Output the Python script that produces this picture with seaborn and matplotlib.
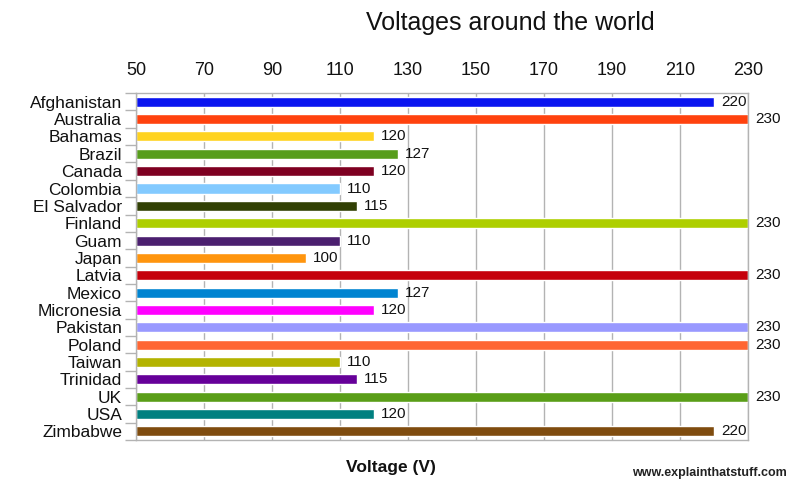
import matplotlib
matplotlib.use("Agg")
import matplotlib.pyplot as plt
import seaborn as sns
import pandas as pd
from matplotlib.ticker import FixedLocator

countries = ["Afghanistan", "Australia", "Bahamas", "Brazil", "Canada", "Colombia",
             "El Salvador", "Finland", "Guam", "Japan", "Latvia", "Mexico",
             "Micronesia", "Pakistan", "Poland", "Taiwan", "Trinidad", "UK",
             "USA", "Zimbabwe"]
voltages = [220, 230, 120, 127, 120, 110, 115, 230, 110, 100, 230, 127,
            120, 230, 230, 110, 115, 230, 120, 220]
colors = ["#0a14f0", "#ff420e", "#ffd320", "#579d1c", "#7e0021", "#83caff",
          "#314004", "#aecf00", "#4b1f6f", "#ff950e", "#c5000b", "#0084d1",
          "#ff00ff", "#9999ff", "#ff6633", "#b3b300", "#660099", "#5a9e18",
          "#008080", "#7f4c0f"]
x_ticks = [50, 70, 90, 110, 130, 150, 170, 190, 210, 230]

df = pd.DataFrame({"country": countries, "voltage": voltages})

sns.set_theme(style="white")
plt.rcParams["font.family"] = ["Liberation Sans", "DejaVu Sans"]

fig = plt.figure(figsize=(8, 4.9), dpi=100)
ax = fig.add_axes([0.17, 0.102, 0.765, 0.708])

base = 50
sns.barplot(data=df.assign(length=df["voltage"] - base), y="country", x="length",
            hue="country", palette=colors, legend=False, orient="h",
            width=0.58, left=base, ax=ax, saturation=1)

ax.set_xlim(50, 230)
ax.set_ylim(len(countries) - 0.5, -0.5)
ax.xaxis.tick_top()
ax.set_xticks(x_ticks)
ax.set_xticklabels([str(t) for t in x_ticks], fontsize=13, color="#111111")
ax.tick_params(axis="x", length=0, pad=10)
ax.grid(axis="x", color="#b3b3b3", linewidth=1)
ax.set_axisbelow(True)

ax.set_yticks(range(len(countries)))
ax.set_yticklabels(countries, fontsize=12.5, color="#111111")
ax.tick_params(axis="y", which="major", length=0, pad=10)
ax.yaxis.set_minor_locator(FixedLocator([i - 0.5 for i in range(len(countries) + 1)]))
ax.tick_params(axis="y", which="minor", length=8, color="#b3b3b3", width=1, left=True)

for s in ax.spines.values():
    s.set_color("#b3b3b3")
    s.set_linewidth(1)

ax.set_xlabel("")
ax.set_ylabel("")

for i, v in enumerate(voltages):
    ax.text(v + 2, i, str(v), va="center", ha="left", fontsize=11, color="#111111",
            clip_on=False)

fig.text(0.638, 0.953, "Voltages around the world", ha="center", va="center",
         fontsize=18, color="#111111")
fig.text(0.489, 0.045, "Voltage (V)", ha="center", va="center", fontsize=12.5,
         fontweight="bold", color="#111111")
fig.text(0.887, 0.034, "www.explainthatstuff.com", ha="center", va="center",
         fontsize=9, fontweight="bold", color="#222222")

fig.savefig("out.png", dpi=100)
